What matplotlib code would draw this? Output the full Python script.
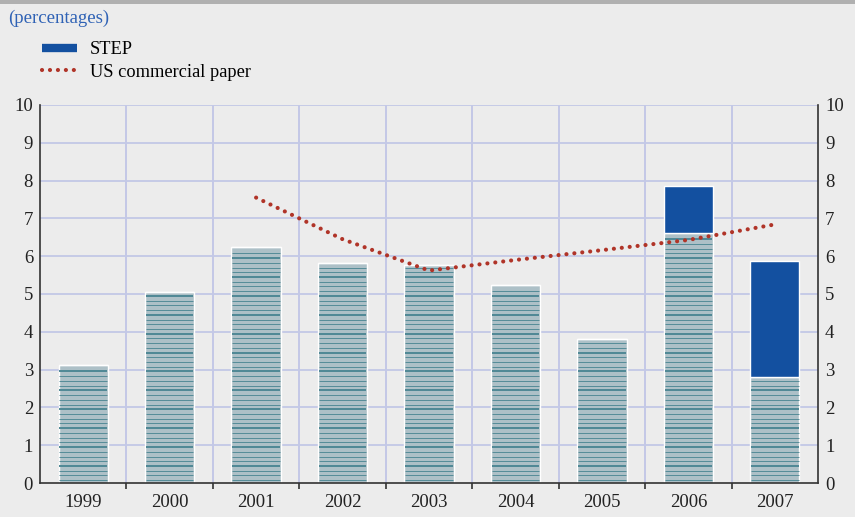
import numpy as np
import matplotlib.pyplot as plt
from matplotlib.lines import Line2D
from matplotlib.patches import Rectangle

plt.rcParams['font.family'] = ['Liberation Serif', 'DejaVu Serif']

# data
years = ['1999', '2000', '2001', '2002', '2003', '2004', '2005', '2006', '2007']
other = [3.12, 5.05, 6.24, 5.83, 5.76, 5.24, 3.81, 6.61, 2.81]
step = [0, 0, 0, 0, 0, 0, 0, 1.25, 3.06]
cp_years = ['2001', '2002', '2003', '2004', '2005', '2006', '2007']
cp_vals = [7.55, 6.45, 5.62, 5.90, 6.16, 6.43, 6.84]

BG = '#ececec'
GRID = '#c3c8e6'
FILL = '#adc0c7'
HATCH = '#4f8895'
BLUE = '#1350a0'
RED = '#b03428'
DOTS = (0, (0.01, 1.9))

fig = plt.figure(figsize=(8.55, 5.17), dpi=100, facecolor=BG)
ax = fig.add_axes([40/855, 34/517, 778/855, 378/517], facecolor=BG)

# gray strip at top of figure
fig.patches.append(Rectangle((0, 1 - 4/517), 1, 4/517, transform=fig.transFigure,
                             facecolor='#b0b0b0', edgecolor='none'))

x = np.arange(len(years))
w = 0.57

# grid
for yv in range(1, 11):
    ax.axhline(yv, color=GRID, lw=1.3, zorder=0)
for xv in x[:-1] + 0.5:
    ax.axvline(xv, color=GRID, lw=1.4, zorder=0)

bars = ax.bar(x, other, w, color=FILL, edgecolor='white', linewidth=1.0, zorder=2)
ax.bar(x, step, w, bottom=other, color=BLUE, edgecolor='white', linewidth=1.0, zorder=2)

# horizontal line hatching, aligned in data space
for b, h in zip(bars, other):
    x0, x1 = b.get_x(), b.get_x() + b.get_width()
    ys = np.arange(0.075, h - 0.05, 0.125)
    ph = ((ys - 0.45) / 0.5) % 1
    thick = (ph < 0.02) | (ph > 0.98)
    ax.hlines(ys[~thick], x0 + 0.01, x1 - 0.01, color=HATCH, lw=0.65, zorder=3)
    ax.hlines(ys[thick], x0 + 0.01, x1 - 0.01, color=HATCH, lw=1.4, zorder=3)

cp_x = [years.index(yy) for yy in cp_years]
ax.plot(cp_x, cp_vals, color=RED, lw=3.0, linestyle=DOTS,
        dash_capstyle='round', zorder=4)

ax.set_xlim(-0.5, len(years) - 0.5)
ax.set_ylim(0, 10)
ax.set_yticks(range(0, 11))
ax.tick_params(axis='y', length=0, labelsize=13.5, pad=5, labelright=True, colors='#222222')
ax.set_xticks(x)
ax.set_xticklabels(years)
ax.tick_params(axis='x', length=0, labelsize=13.5, pad=8, colors='#222222')
ax.set_xticks(x[:-1] + 0.5, minor=True)
ax.tick_params(axis='x', which='minor', length=4, width=1.2, direction='out', color='#333333')

for s in ['left', 'right', 'bottom']:
    ax.spines[s].set_color('#333333')
    ax.spines[s].set_linewidth(1.2)
ax.spines['top'].set_visible(False)

fig.text(8/855, 1 - 18/517, '(percentages)', color='#2f62b5', fontsize=13.5, va='center', ha='left')

handles = [Line2D([], [], color=BLUE, lw=6, solid_capstyle='butt'),
           Line2D([], [], color=RED, lw=3.0, linestyle=DOTS, dash_capstyle='round')]
ax.legend(handles, ['STEP', 'US commercial paper'], loc='upper left',
          bbox_to_anchor=(42/855, 1 - 41/517), bbox_transform=fig.transFigure,
          frameon=False, fontsize=13.2, handlelength=1.9, handletextpad=0.7,
          labelspacing=0.32, borderpad=0, borderaxespad=0)

fig.savefig('out.png', dpi=100, facecolor=BG)
